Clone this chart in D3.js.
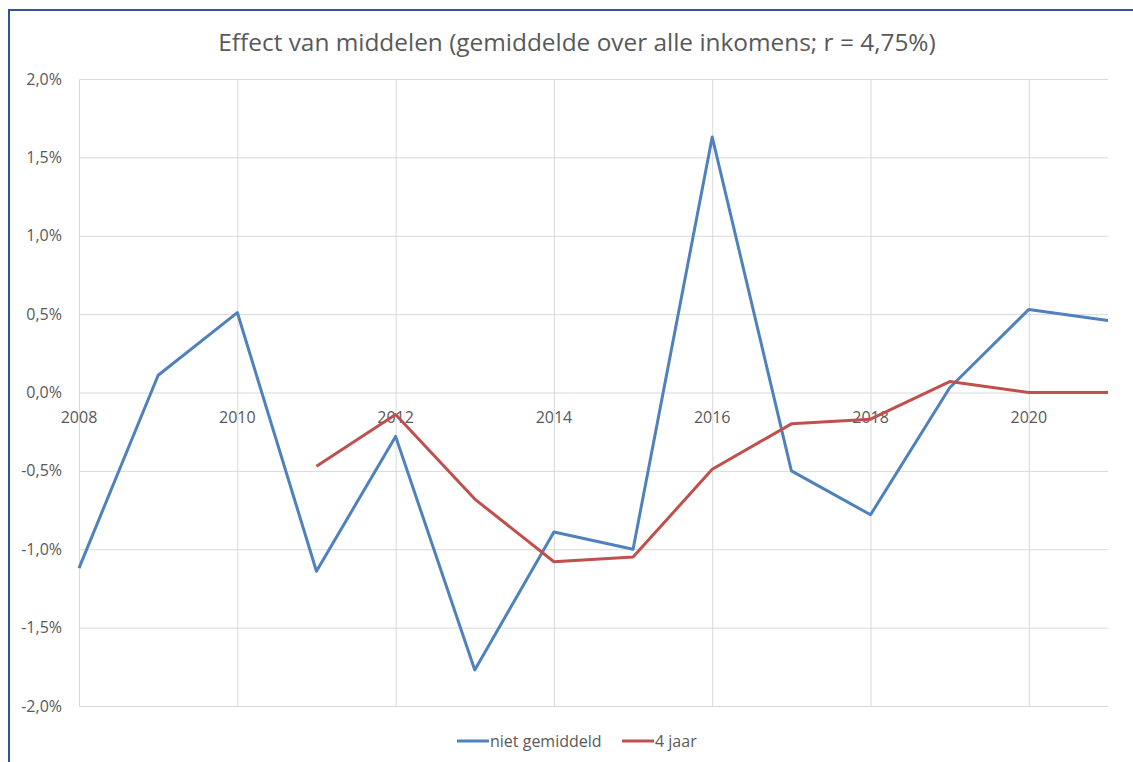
<!DOCTYPE html>
<html lang="nl">
<head>
  <meta charset="utf-8" />
  <title>Effect van middelen</title>
  <script src="https://cdn.jsdelivr.net/npm/d3@7"></script>
  <style>
body{
  margin: 0;
  background: #fff;
}
svg text{
  font-family: "Open Sans", "Noto Sans", sans-serif;
  fill: #595959;
}
  </style>
</head>
<body>
  <svg id="chart"></svg>
  <script>
  // data (percent)
  const years = [2008, 2009, 2010, 2011, 2012, 2013, 2014, 2015, 2016, 2017, 2018, 2019, 2020, 2021];
  const nietGemiddeld = [-1.12, 0.11, 0.51, -1.14, -0.28, -1.77, -0.89, -1.00, 1.63, -0.50, -0.78, 0.03, 0.53, 0.46];
  const vierJaar = [null, null, null, -0.47, -0.14, -0.68, -1.08, -1.05, -0.49, -0.20, -0.17, 0.07, 0.00, 0.00];
  const xTicks = [2008, 2010, 2012, 2014, 2016, 2018, 2020];
  const yTicks = [-2, -1.5, -1, -0.5, 0, 0.5, 1, 1.5, 2];

  const series = [
    {name: 'niet gemiddeld', values: nietGemiddeld, color: '#4f81bd'},
    {name: '4 jaar', values: vierJaar, color: '#c0504d'}
  ];

  const width = 1133, height = 762;
  const svg = d3.select('#chart').attr('width', width).attr('height', height);

  // chart frame (right and bottom run off the picture)
  svg.append('path')
      .attr('d', `M9,${height + 5}V10H${width + 5}`)
      .attr('fill', 'none')
      .attr('stroke', '#2f5597')
      .attr('stroke-width', 2);

  const x = d3.scaleLinear().domain([2008, 2021]).range([79, 1108]);
  const y = d3.scaleLinear().domain([-2, 2]).range([706, 79]);
  const fmt = v => d3.format('.1f')(v).replace('.', ',').replace('−', '-') + '%';

  // grid
  svg.append('g')
      .selectAll('line')
      .data(yTicks)
      .join('line')
      .attr('x1', x(2008)).attr('x2', x(2021))
      .attr('y1', d => y(d) + 0.5).attr('y2', d => y(d) + 0.5)
      .attr('stroke', '#d9d9d9');

  svg.append('g')
      .selectAll('line')
      .data(xTicks)
      .join('line')
      .attr('x1', d => x(d) + 0.5).attr('x2', d => x(d) + 0.5)
      .attr('y1', y(2)).attr('y2', y(-2))
      .attr('stroke', '#d9d9d9');

  // y labels
  svg.append('g')
      .selectAll('text')
      .data(yTicks)
      .join('text')
      .attr('x', 62)
      .attr('y', d => y(d))
      .attr('dy', '0.35em')
      .attr('text-anchor', 'end')
      .attr('font-size', 16)
      .text(fmt);

  // x labels sit under the zero line
  svg.append('g')
      .selectAll('text')
      .data(xTicks)
      .join('text')
      .attr('x', d => x(d))
      .attr('y', y(0) + 30)
      .attr('text-anchor', 'middle')
      .attr('font-size', 16)
      .text(d => d);

  const line = d3.line()
      .defined(d => d[1] != null)
      .x(d => x(d[0]))
      .y(d => y(d[1]));

  svg.append('g')
      .selectAll('path')
      .data(series)
      .join('path')
      .attr('d', s => line(years.map((yr, i) => [yr, s.values[i]])))
      .attr('fill', 'none')
      .attr('stroke', s => s.color)
      .attr('stroke-width', 3)
      .attr('stroke-linejoin', 'round');

  // title
  svg.append('text')
      .attr('x', 577)
      .attr('y', 51)
      .attr('text-anchor', 'middle')
      .attr('font-size', 24.4)
      .text('Effect van middelen (gemiddelde over alle inkomens; r = 4,75%)');

  // legend
  const legendX = [457, 622];
  const legend = svg.append('g')
      .selectAll('g')
      .data(series)
      .join('g')
      .attr('transform', (d, i) => `translate(${legendX[i]},741)`);

  legend.append('line')
      .attr('x1', 0).attr('x2', 32)
      .attr('stroke', d => d.color)
      .attr('stroke-width', 3);

  legend.append('text')
      .attr('x', 33)
      .attr('dy', '0.35em')
      .attr('font-size', 16)
      .text(d => d.name);
  </script>
</body>
</html>
